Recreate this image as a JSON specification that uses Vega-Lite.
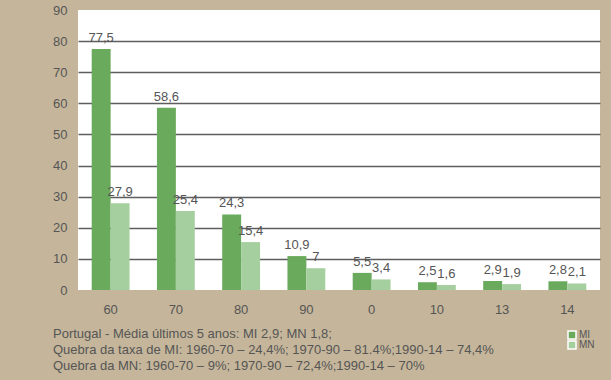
{
  "$schema": "https://vega.github.io/schema/vega-lite/v6.json",
  "width": 522,
  "height": 280,
  "autosize": {"type": "none"},
  "padding": {"left": 78, "top": 10, "right": 11, "bottom": 90},
  "background": "#c5b69b",
  "config": {"view": {"fill": "white", "stroke": null}, "font": "Liberation Sans"},
  "title": {
    "text": [
      "Portugal - Média últimos 5 anos: MI 2,9; MN 1,8;",
      "Quebra da taxa de MI: 1960-70 – 24,4%; 1970-90 – 81.4%;1990-14 – 74,4%",
      "Quebra da MN: 1960-70 – 9%; 1970-90 – 72,4%;1990-14 – 70%"
    ],
    "orient": "bottom",
    "anchor": "start",
    "frame": "group",
    "dx": -25,
    "offset": -22,
    "fontSize": 13,
    "fontWeight": "normal",
    "color": "#555555",
    "lineHeight": 16,
    "align": "left"
  },
  "data": {
    "values": [
      {"year": "60", "series": "MI", "value": 77.5},
      {"year": "60", "series": "MN", "value": 27.9},
      {"year": "70", "series": "MI", "value": 58.6},
      {"year": "70", "series": "MN", "value": 25.4},
      {"year": "80", "series": "MI", "value": 24.3},
      {"year": "80", "series": "MN", "value": 15.4},
      {"year": "90", "series": "MI", "value": 10.9},
      {"year": "90", "series": "MN", "value": 7},
      {"year": "0", "series": "MI", "value": 5.5},
      {"year": "0", "series": "MN", "value": 3.4},
      {"year": "10", "series": "MI", "value": 2.5},
      {"year": "10", "series": "MN", "value": 1.6},
      {"year": "13", "series": "MI", "value": 2.9},
      {"year": "13", "series": "MN", "value": 1.9},
      {"year": "14", "series": "MI", "value": 2.8},
      {"year": "14", "series": "MN", "value": 2.1}
    ]
  },
  "transform": [{"calculate": "replace(toString(datum.value), '.', ',')", "as": "label"}],
  "encoding": {
    "x": {
      "field": "year",
      "type": "nominal",
      "sort": ["60", "70", "80", "90", "0", "10", "13", "14"],
      "scale": {"paddingInner": 0.42, "paddingOuter": 0.21},
      "axis": {
        "title": null,
        "domain": false,
        "ticks": false,
        "grid": false,
        "labelAngle": 0,
        "labelPadding": 13,
        "labelFontSize": 13,
        "labelColor": "#555555"
      }
    },
    "xOffset": {"field": "series", "type": "nominal", "sort": ["MI", "MN"]},
    "y": {
      "field": "value",
      "type": "quantitative",
      "scale": {"domain": [0, 90], "nice": false},
      "axis": {
        "title": null,
        "values": [0, 10, 20, 30, 40, 50, 60, 70, 80, 90],
        "domain": false,
        "ticks": false,
        "grid": true,
        "gridColor": {"condition": {"test": "datum.value == 0 || datum.value == 90", "value": null}, "value": "#5e5e5e"},
        "gridWidth": 1.5,
        "labelPadding": 11,
        "labelFontSize": 13,
        "labelColor": "#555555"
      }
    }
  },
  "layer": [
    {
      "mark": {"type": "bar"},
      "encoding": {
        "color": {
          "field": "series",
          "type": "nominal",
          "scale": {"domain": ["MI", "MN"], "range": ["#6aaa5c", "#a5cf9f"]},
          "legend": {
            "orient": "none",
            "legendX": 489,
            "legendY": 320,
            "title": null,
            "symbolType": "square",
            "symbolSize": 64,
            "symbolStrokeColor": "white",
            "symbolStrokeWidth": 1.5,
            "symbolOpacity": 1,
            "labelFontSize": 10,
            "labelColor": "#555555",
            "rowPadding": -2,
            "clipHeight": 10,
            "labelOffset": 2,
            "padding": 0
          }
        }
      }
    },
    {
      "mark": {"type": "text", "dy": -11, "fontSize": 13, "color": "#555555"},
      "encoding": {"text": {"field": "label", "type": "nominal"}}
    }
  ]
}
